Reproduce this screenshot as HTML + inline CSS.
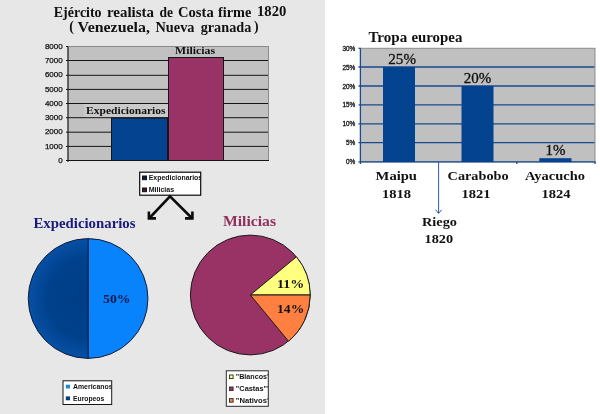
<!DOCTYPE html>
<html><head><meta charset="utf-8"><title>Ejército realista de Costa firme 1820</title>
<style>
html,body{margin:0;padding:0;background:#fff;}
svg{display:block}
.se{font-family:"Liberation Serif","DejaVu Serif",serif;}
.sa{font-family:"Liberation Sans","DejaVu Sans",sans-serif;}
.b{font-weight:bold}
</style></head>
<body>
<svg width="600" height="414" viewBox="0 0 600 414">
<defs>
<radialGradient id="gdark" gradientUnits="userSpaceOnUse" cx="88.1" cy="298.5" r="60">
<stop offset="0" stop-color="#003d86"/>
<stop offset="0.68" stop-color="#00418c"/>
<stop offset="1" stop-color="#0750a5"/>
</radialGradient>
<clipPath id="c1"><rect x="140" y="172" width="60.5" height="23"/></clipPath>
<clipPath id="c2"><rect x="63" y="381" width="48.3" height="23"/></clipPath>
<clipPath id="c3"><rect x="226" y="371" width="42" height="35"/></clipPath>
</defs>
<rect x="0" y="0" width="600" height="414" fill="#ffffff"/>
<rect id="leftbg" x="0" y="0" width="325" height="414" fill="#e7e7e7"/>

<!-- left title -->
<g class="se b" fill="#111" font-size="13.8">
<text x="53.8" y="16.9" textLength="47.8" lengthAdjust="spacingAndGlyphs">Ejército</text>
<text x="107" y="17" textLength="47" lengthAdjust="spacingAndGlyphs">realista</text>
<text x="159.5" y="17" textLength="13.5" lengthAdjust="spacingAndGlyphs">de</text>
<text x="178" y="17" textLength="35.7" lengthAdjust="spacingAndGlyphs">Costa</text>
<text x="218" y="17" textLength="33.3" lengthAdjust="spacingAndGlyphs">firme</text>
<text x="69.2" y="31.3">(</text>
<text x="77.6" y="31.5" textLength="72.4" lengthAdjust="spacingAndGlyphs">Venezuela,</text>
<text x="155.5" y="31.5" textLength="39" lengthAdjust="spacingAndGlyphs">Nueva</text>
<text x="200.7" y="31.5" textLength="50.6" lengthAdjust="spacingAndGlyphs">granada</text>
<text x="254" y="31.3">)</text>
<text x="257" y="15.7" font-size="14" textLength="29.3" lengthAdjust="spacingAndGlyphs">1820</text>
</g>

<!-- left bar chart -->
<g id="bar1">
<rect x="68" y="46.5" width="200.5" height="114" fill="#c1c1c1" stroke="#8c8c8c" stroke-width="1"/>
<rect x="84" y="104" width="84" height="13.2" fill="#cacaca"/>
<g stroke="#151515" stroke-width="1">
<line x1="66" x2="268" y1="60.5" y2="60.5"/>
<line x1="66" x2="268" y1="75.3" y2="75.3"/>
<line x1="66" x2="268" y1="89.4" y2="89.4"/>
<line x1="66" x2="268" y1="103.5" y2="103.5"/>
<line x1="66" x2="268" y1="117.7" y2="117.7"/>
<line x1="66" x2="268" y1="132.2" y2="132.2"/>
<line x1="66" x2="268" y1="146.4" y2="146.4"/>
<line x1="66" x2="269" y1="160.5" y2="160.5"/>
<line x1="66" x2="68" y1="46.5" y2="46.5"/>
<line x1="68" x2="68" y1="46.5" y2="162"/>
</g>
<rect x="111.5" y="118" width="56" height="42.5" fill="#04438f" stroke="#151515" stroke-width="1"/>
<rect x="168.5" y="57.5" width="55" height="103" fill="#993366" stroke="#151515" stroke-width="1"/>
<g class="sa" font-size="8" fill="#111" stroke="#111" stroke-width="0.25" text-anchor="end">
<text x="62.7" y="48.6">8000</text>
<text x="62.7" y="62.7">7000</text>
<text x="62.7" y="77.4">6000</text>
<text x="62.7" y="91.6">5000</text>
<text x="62.7" y="105.7">4000</text>
<text x="62.7" y="119.9">3000</text>
<text x="62.7" y="134.4">2000</text>
<text x="62.7" y="148.6">1000</text>
<text x="62.7" y="162.7">0</text>
</g>
<text class="se b" x="86" y="113.5" font-size="10.5" fill="#111" textLength="79.6" lengthAdjust="spacingAndGlyphs">Expedicionarios</text>
<text class="se b" x="175" y="54.3" font-size="10.6" fill="#111" textLength="40" lengthAdjust="spacingAndGlyphs">Milicias</text>
</g>

<!-- legend 1 -->
<g id="leg1">
<rect x="139.7" y="172.2" width="61" height="23" fill="#fff" stroke="#0a0a0a" stroke-width="1.2"/>
<rect x="142.5" y="176" width="4" height="3.7" fill="#0a1c40" stroke="#151515" stroke-width="1"/>
<rect x="142.5" y="188" width="4" height="3.7" fill="#40182c" stroke="#151515" stroke-width="1"/>
<g class="sa b" font-size="7" fill="#111" clip-path="url(#c1)">
<text x="148.7" y="179.7" textLength="53.5" lengthAdjust="spacingAndGlyphs">Expedicionarios</text>
<text x="148.7" y="191.7" textLength="25.5" lengthAdjust="spacingAndGlyphs">Milicias</text>
</g>
</g>

<!-- arrows -->
<g id="arrows" stroke="#0c0c0c" stroke-width="2.6" fill="none" stroke-linecap="butt" stroke-linejoin="miter">
<path d="M149 218.5 L170 196.3 L192.3 218.5"/>
<path d="M148.9 211.6 V218.4 H156"/>
<path d="M192.4 211.6 V218.4 H185"/>
</g>

<!-- pie titles -->
<text class="se b" x="33.5" y="227.7" font-size="14.5" fill="#1a1a7a" textLength="102" lengthAdjust="spacingAndGlyphs">Expedicionarios</text>
<text class="se b" x="223" y="226" font-size="14.5" fill="#8f2f5c" textLength="53" lengthAdjust="spacingAndGlyphs">Milicias</text>

<!-- pie 1 -->
<g id="pie1" stroke="#101c3c" stroke-width="1">
<path d="M88.1 238.6 A59.9 59.9 0 0 1 88.1 358.4 Z" fill="#0883fb"/>
<path d="M88.1 238.6 A59.9 59.9 0 0 0 88.1 358.4 Z" fill="url(#gdark)"/>
</g>
<text class="se b" x="103" y="302.8" font-size="13" fill="#0c1848" textLength="27.5" lengthAdjust="spacingAndGlyphs">50%</text>

<!-- pie 2 -->
<g id="pie2" stroke="#1a1a1a" stroke-width="1">
<circle cx="250.3" cy="295" r="59.9" fill="#993366"/>
<path d="M250.3 295 L296.45 256.8 A59.9 59.9 0 0 1 310.2 295 Z" fill="#ffff80"/>
<path d="M250.3 295 L310.2 295 A59.9 59.9 0 0 1 288.5 341.2 Z" fill="#ff8040"/>
</g>
<text class="se b" x="277" y="288.2" font-size="13.3" fill="#111" textLength="27.3" lengthAdjust="spacingAndGlyphs">11%</text>
<text class="se b" x="277" y="313" font-size="13.3" fill="#111" textLength="27.3" lengthAdjust="spacingAndGlyphs">14%</text>

<!-- legend 2 -->
<g id="leg2">
<rect x="63" y="380.8" width="48.7" height="23.7" fill="#fff" stroke="#151515" stroke-width="1"/>
<rect x="65.8" y="384.7" width="4.2" height="3.8" fill="#1a8fd8"/>
<rect x="65.8" y="396.4" width="4.2" height="3.9" fill="#0a3d80"/>
<g class="sa b" font-size="7" fill="#111" clip-path="url(#c2)">
<text x="73" y="388.8" textLength="39.5" lengthAdjust="spacingAndGlyphs">Americanos</text>
<text x="73" y="400.5" textLength="31.2" lengthAdjust="spacingAndGlyphs">Europeos</text>
</g>
</g>

<!-- legend 3 -->
<g id="leg3">
<rect x="226.3" y="370.8" width="42" height="35.5" fill="#fff" stroke="#2a2a2a" stroke-width="1"/>
<rect x="229.5" y="375" width="3.6" height="3.6" fill="#ffff80" stroke="#2a2a2a" stroke-width="0.9"/>
<rect x="229.5" y="387" width="3.6" height="3.6" fill="#993366" stroke="#2a2a2a" stroke-width="0.9"/>
<rect x="229.5" y="398.6" width="3.6" height="3.6" fill="#ff8040" stroke="#2a2a2a" stroke-width="0.9"/>
<g class="sa b" font-size="7" fill="#111" clip-path="url(#c3)">
<text x="235.8" y="378.8" textLength="33" lengthAdjust="spacingAndGlyphs">"Blancos'</text>
<text x="235.8" y="390.8" textLength="33" lengthAdjust="spacingAndGlyphs">"Castas"'</text>
<text x="235.8" y="402.8" textLength="33" lengthAdjust="spacingAndGlyphs">"Nativos'</text>
</g>
</g>

<!-- right chart -->
<g class="se b" font-size="13.6" fill="#111">
<text x="368.4" y="42" textLength="38.8" lengthAdjust="spacingAndGlyphs">Tropa</text>
<text x="411.4" y="42" textLength="51" lengthAdjust="spacingAndGlyphs">europea</text>
</g>
<g id="bar2">
<rect x="360.5" y="48.3" width="234.5" height="113.6" fill="#c0c0c0" stroke="#8c8c8c" stroke-width="1"/>
<g stroke="#174a8f" stroke-width="1.3">
<line x1="358.5" x2="594.5" y1="67" y2="67"/>
<line x1="358.5" x2="594.5" y1="86" y2="86"/>
<line x1="358.5" x2="594.5" y1="104.8" y2="104.8"/>
<line x1="358.5" x2="594.5" y1="123.8" y2="123.8"/>
<line x1="358.5" x2="594.5" y1="142.6" y2="142.6"/>
<line x1="358.5" x2="595.5" y1="161.9" y2="161.9"/>
<line x1="358.5" x2="360.5" y1="48.3" y2="48.3"/>
<line x1="360.4" x2="360.4" y1="48.3" y2="164"/>
<line x1="516.8" x2="516.8" y1="161.9" y2="164"/>
<line x1="595" x2="595" y1="161.9" y2="164"/>
</g>
<rect x="383" y="67" width="32" height="94.9" fill="#04438f"/>
<rect x="461.5" y="86" width="32" height="75.9" fill="#04438f"/>
<rect x="539.3" y="158.2" width="32.2" height="3.7" fill="#04438f"/>
<g class="sa" font-size="6.4" fill="#111" stroke="#111" stroke-width="0.3" text-anchor="end">
<text x="355.3" y="50.8">30%</text>
<text x="355.3" y="69.5">25%</text>
<text x="355.3" y="88.5">20%</text>
<text x="355.3" y="107.3">15%</text>
<text x="355.3" y="126.3">10%</text>
<text x="355.3" y="145.1">5%</text>
<text x="355.3" y="164.3">0%</text>
</g>
</g>
<g class="se" font-size="14.8" fill="#111" stroke="#111" stroke-width="0.3">
<text x="388.3" y="64.2" textLength="27.7" lengthAdjust="spacingAndGlyphs">25%</text>
<text x="463.7" y="83" textLength="27.6" lengthAdjust="spacingAndGlyphs">20%</text>
<text x="545.5" y="154.8" font-size="14.3" textLength="20" lengthAdjust="spacingAndGlyphs">1%</text>
</g>
<g class="se b" font-size="12.8" fill="#111">
<text x="375.6" y="180" textLength="41.4" lengthAdjust="spacingAndGlyphs">Maipu</text>
<text x="447.6" y="180" textLength="61" lengthAdjust="spacingAndGlyphs">Carabobo</text>
<text x="525" y="180" textLength="60" lengthAdjust="spacingAndGlyphs">Ayacucho</text>
<text x="422" y="225.8" textLength="35" lengthAdjust="spacingAndGlyphs">Riego</text>
</g>
<g class="se b" font-size="13.4" fill="#111">
<text x="382" y="197.7" textLength="29" lengthAdjust="spacingAndGlyphs">1818</text>
<text x="461.4" y="197.7" textLength="29" lengthAdjust="spacingAndGlyphs">1821</text>
<text x="541.5" y="197.7" textLength="29" lengthAdjust="spacingAndGlyphs">1824</text>
<text x="424.5" y="242.8" textLength="28.5" lengthAdjust="spacingAndGlyphs">1820</text>
</g>
<g id="riegoarrow" stroke="#2a5ea0" stroke-width="1" fill="none">
<line x1="438.6" y1="161.9" x2="438.6" y2="213"/>
<path d="M435.6 209.8 L438.6 213.4 L441.6 209.8"/>
</g>
</svg>
</body></html>
